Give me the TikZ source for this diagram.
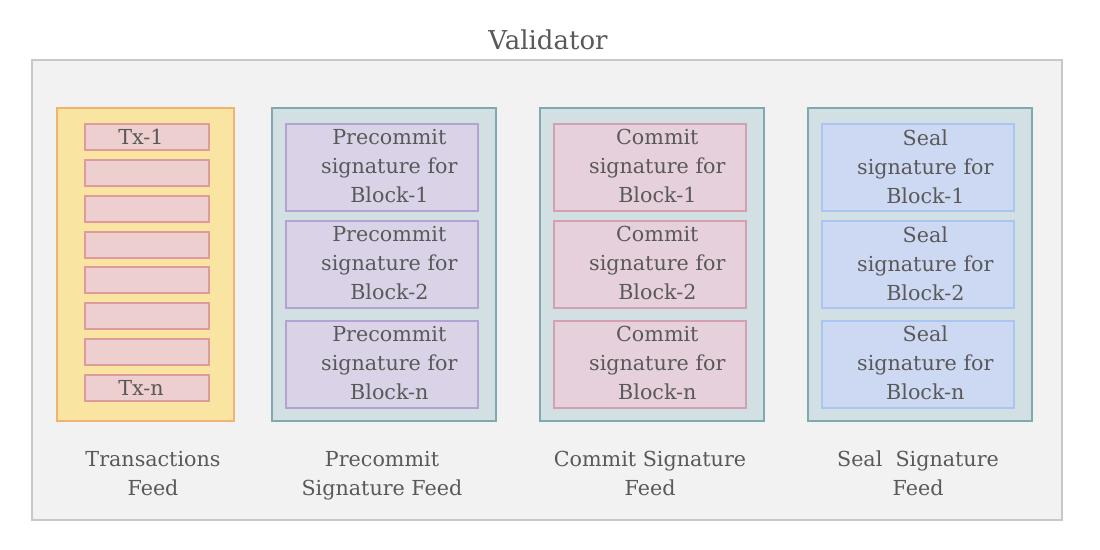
\documentclass[tikz,border=0pt]{standalone}
\usepackage{fontspec}
\setmainfont{DejaVu Serif}
\definecolor{txtc}{HTML}{595959}
\definecolor{outerfill}{HTML}{F2F2F2}
\definecolor{outerdraw}{HTML}{C8C8C8}
\definecolor{txfill}{HTML}{FAE4A1}
\definecolor{txdraw}{HTML}{F0B46E}
\definecolor{rowfill}{HTML}{EECFCF}
\definecolor{rowdraw}{HTML}{DF9A9C}
\definecolor{colfill}{HTML}{D3E0E3}
\definecolor{coldraw}{HTML}{80A8B0}
\definecolor{prefill}{HTML}{DAD3E7}
\definecolor{predraw}{HTML}{B3A3D3}
\definecolor{comfill}{HTML}{E6D0DC}
\definecolor{comdraw}{HTML}{D3A0B0}
\definecolor{sealfill}{HTML}{CDD9F2}
\definecolor{sealdraw}{HTML}{A9C5F2}
\tikzset{
  every node/.style={text=txtc, font=\fontsize{15.5}{21.75}\selectfont, inner sep=0pt, outer sep=0pt},
  outerbox/.style={draw=outerdraw, fill=outerfill, line width=1.5pt, minimum width=772.5pt, minimum height=345pt},
  txcol/.style={draw=txdraw, fill=txfill, line width=1.5pt, minimum width=132.75pt, minimum height=234.75pt},
  txrow/.style={draw=rowdraw, fill=rowfill, line width=1.5pt, minimum width=93pt, minimum height=19.5pt},
  feedcol/.style={draw=coldraw, fill=colfill, line width=1.5pt, minimum width=168pt, minimum height=234.75pt},
  sigbox/.style={line width=1.5pt, minimum width=144pt, minimum height=65.25pt},
  prebox/.style={sigbox, draw=predraw, fill=prefill},
  combox/.style={sigbox, draw=comdraw, fill=comfill},
  sealbox/.style={sigbox, draw=sealdraw, fill=sealfill},
  lbl/.style={align=center, text depth=0pt},
}
\begin{document}
\begin{tikzpicture}[x=0.75pt,y=-0.75pt]
\useasboundingbox (0,0) rectangle (1100,550);
\node[font=\fontsize{19.5}{24}\selectfont] (title) at (548,40) {Validator};
\node[outerbox] (outer) at (547,290) {};
% Transactions feed
\node[txcol] (txcol) at (145.5,264.5) {};
\foreach \i in {0,...,7} {
  \node[txrow] (row\i) at (147,{137+35.86*\i}) {};
}
\node[anchor=center, xshift=-4.5pt] (tx1) at (row0) {Tx-1};
\node[anchor=center, xshift=-4.5pt] (txn) at (row7) {Tx-n};
% feed columns
\node[feedcol] (precol) at (384,264.5) {};
\node[feedcol] (comcol) at (652,264.5) {};
\node[feedcol] (sealcol) at (920,264.5) {};
\foreach \y/\b/\k in {167.5/1/a, 264.5/2/b, 364/n/c} {
  \node[prebox] (pre\k) at (382,\y) {};
  \node[lbl] (pret\k) at ([xshift=5.5pt,yshift=1pt]pre\k.center) {Precommit\\signature for\\Block-\b};
  \node[combox] (com\k) at (650,\y) {};
  \node[lbl] (comt\k) at ([xshift=5.5pt,yshift=1pt]com\k.center) {Commit\\signature for\\Block-\b};
  \node[sealbox] (seal\k) at (918,\y) {};
  \node[lbl] (sealt\k) at ([xshift=5.5pt,yshift=1pt]seal\k.center) {Seal\\signature for\\Block-\b};
}
% labels
\node[lbl] (txlbl) at (153,473) {Transactions\\Feed};
\node[lbl] (prelbl) at (382,473) {Precommit\\Signature Feed};
\node[lbl] (comlbl) at (650,473) {Commit Signature\\Feed};
\node[lbl] (seallbl) at (918,473) {Seal\ \ Signature\\Feed};
\end{tikzpicture}
\end{document}
